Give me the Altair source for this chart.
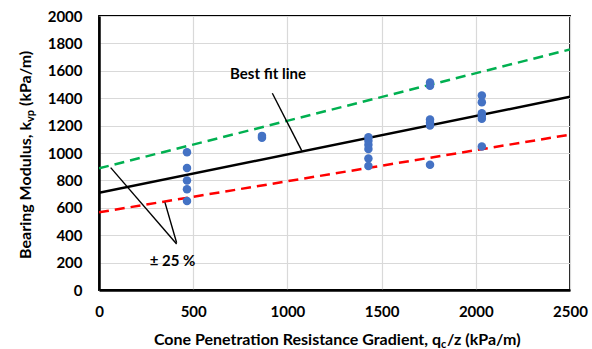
import altair as alt
import pandas as pd

# ---- data ----
qc_z = [467, 467, 467, 467, 467,
        865, 865,
        1430, 1430, 1430, 1430, 1430, 1430,
        1757, 1757, 1757, 1757, 1757, 1757,
        2032, 2032, 2032, 2032, 2032, 2032]
k_vp = [1005, 890, 800, 735, 650,
        1112, 1125,
        1115, 1090, 1060, 1030, 960, 905,
        1515, 1490, 1245, 1220, 1200, 915,
        1420, 1370, 1290, 1270, 1250, 1047]

line_x = [0, 2500]
fit_y = [710, 1410]
upper_y = [888, 1756]
lower_y = [567, 1134]

x_ticks = [0, 500, 1000, 1500, 2000, 2500]
y_ticks = [0, 200, 400, 600, 800, 1000, 1200, 1400, 1600, 1800, 2000]

# annotation leader lines (data units)
lead_x1 = [920, 62, 350]
lead_y1 = [1436, 893, 640]
lead_x2 = [1076, 412, 412]
lead_y2 = [1017, 336, 345]

ann_text = ["Best fit line", "± 25 %"]
ann_x = [897, 390]
ann_y = [1540, 172]

FONT = "Lato"
W, H = 471, 274

xs = alt.Scale(domain=[0, 2500], nice=False, zero=False)
ys = alt.Scale(domain=[0, 2000], nice=False, zero=False)

common = dict(title=None, grid=True, ticks=False, domainColor="black", domainWidth=2.5,
              labelFont=FONT, labelFontWeight="bold", labelFontSize=15, labelColor="black",
              gridColor="#D9D9D9", gridWidth=1.2, labelFlush=False, labelOverlap=False,
              format="d")
x_axis = alt.Axis(values=x_ticks, tickCount=len(x_ticks), labelPadding=14, **common)
y_axis = alt.Axis(values=y_ticks, tickCount=len(y_ticks), labelPadding=17, **common)

def X(field="x:Q"):
    return alt.X(field, scale=xs, axis=x_axis)

def Y(field="y:Q"):
    return alt.Y(field, scale=ys, axis=y_axis)

pts = pd.DataFrame({"x": qc_z, "y": k_vp})
points = alt.Chart(pts).mark_circle(size=72, color="#4472C4", opacity=1).encode(x=X(), y=Y())

def line_layer(yvals, color, dash=None, width=2.5):
    df = pd.DataFrame({"x": line_x, "y": yvals})
    kw = dict(color=color, strokeWidth=width, clip=True)
    if dash:
        kw["strokeDash"] = dash
    return alt.Chart(df).mark_line(**kw).encode(x=X(), y=Y())

fit = line_layer(fit_y, "black", None, 2.5)
upper = line_layer(upper_y, "#00B050", [10, 6], 2.5)
lower = line_layer(lower_y, "#FF0000", [10, 6], 2.5)

leads = alt.Chart(pd.DataFrame({"x": lead_x1, "y": lead_y1, "x2": lead_x2, "y2": lead_y2})).mark_rule(
    color="black", strokeWidth=1.4).encode(x=X(), y=Y(), x2="x2:Q", y2="y2:Q")

anns = alt.Chart(pd.DataFrame({"t": ann_text, "x": ann_x, "y": ann_y})).mark_text(
    font=FONT, fontWeight="bold", fontSize=15, color="black", align="center", baseline="alphabetic").encode(
    x=X(), y=Y(), text="t:N")

def txt(label, x, y, size=16, align="left", angle=0):
    kw = dict(font=FONT, fontWeight="bold", fontSize=size, color="black", align=align,
              baseline="alphabetic")
    if angle:
        kw["angle"] = angle
    return alt.Chart(pd.DataFrame({"t": [label]})).mark_text(**kw).encode(
        text="t:N", x=alt.value(x), y=alt.value(y))

# x-axis title with subscript c
xt1 = txt("Cone Penetration Resistance Gradient, q", 342, 329, align="right")
xt2 = txt("c", 342, 332, size=11, align="left")
xt3 = txt("/z (kPa/m)", 348, 329, align="left")

# y-axis title with subscript vp
yt1 = txt("Bearing Modulus, k", -68, 106, align="right", angle=270)
yt2 = txt("vp", -65, 106, size=11, align="left", angle=270)
yt3 = txt("(kPa/m)", -68, 90, align="left", angle=270)

chart = alt.layer(upper, lower, fit, points, leads, anns, xt1, xt2, xt3, yt1, yt2, yt3).properties(
    width=W, height=H,
    autosize=alt.AutoSizeParams(type="none"),
    padding={"left": 99, "top": 16, "right": 22, "bottom": 59},
    background="white",
).configure_view(stroke="black", strokeWidth=1.8)

chart.save("out.html", embed_options={"renderer": "svg", "actions": False})
